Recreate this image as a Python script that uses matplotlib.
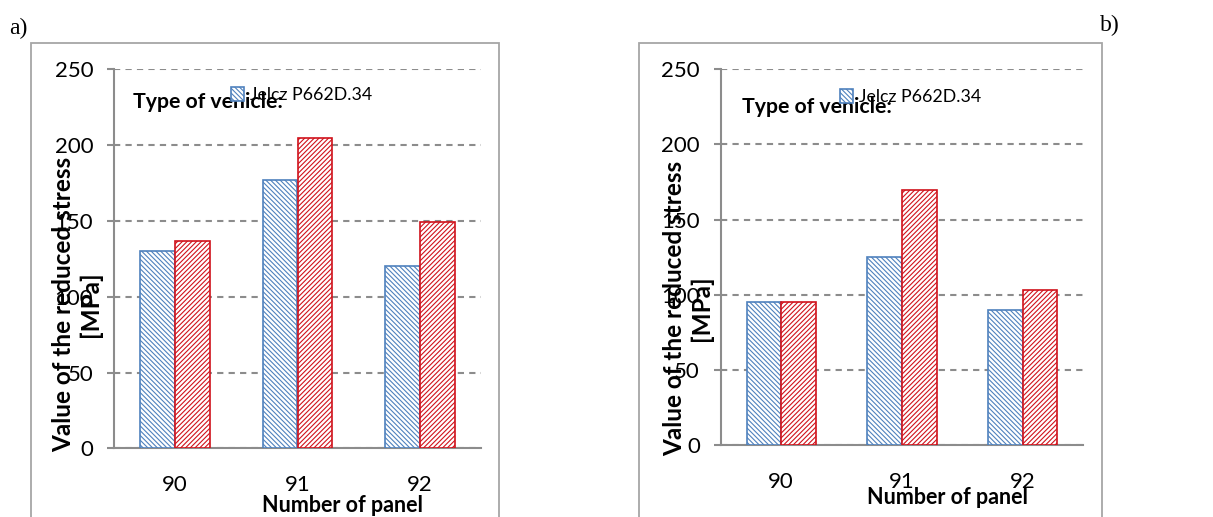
import matplotlib
matplotlib.use("Agg")
import matplotlib.pyplot as plt
import matplotlib.patches as mpatches
import numpy as np

panels = ["90", "91", "92"]
series_names = ["Jelcz P662D.34", "Jelcz P662D.34 (mod.)"]
stress_a_blue = [130, 177, 120.5]
stress_a_red = [136.5, 205, 149.5]
stress_b_blue = [95.5, 125, 90]
stress_b_red = [95, 169.5, 103.5]

W, H = 1213, 517
BLUE = "#4F81BD"
RED = "#D0121B"
GRAY = "#8C8C8C"

plt.rcParams['font.family'] = ['Lato', 'DejaVu Sans']
plt.rcParams['hatch.linewidth'] = 0.8

fig = plt.figure(figsize=(W / 100, H / 100), dpi=100)


def px_axes(x0, x1, y_top, y_bot):
    return fig.add_axes([x0 / W, 1 - y_bot / H, (x1 - x0) / W, (y_bot - y_top) / H])


def draw_panel(ax, blue, red, frame, ylab_xy, leg_xy, type_xy, xlab_xy, tag, tag_xy):
    x = np.arange(len(panels))
    w = 0.286
    ax.bar(x - w / 2, blue, w, facecolor="white", edgecolor=BLUE, hatch="\\" * 7,
           linewidth=1.2, label=series_names[0], zorder=3)
    ax.bar(x + w / 2, red, w, facecolor="white", edgecolor=RED, hatch="/" * 7,
           linewidth=1.2, label=series_names[1], zorder=3)
    ax.set_xlim(-0.5, 2.5)
    ax.set_ylim(0, 250)
    ax.set_yticks([0, 50, 100, 150, 200, 250])
    ax.set_xticks(x)
    ax.set_xticklabels(panels)
    ax.yaxis.grid(True, color=GRAY, linestyle=(0, (3, 2.5)), linewidth=1.5, zorder=0)
    ax.set_axisbelow(True)
    for s in ["top", "right"]:
        ax.spines[s].set_visible(False)
    for s in ["left", "bottom"]:
        ax.spines[s].set_color(GRAY)
        ax.spines[s].set_linewidth(1.5)
    ax.tick_params(axis="y", length=5, width=1.5, color=GRAY, pad=10, labelsize=16)
    ax.tick_params(axis="x", length=0, pad=19, labelsize=16)

    # chart area frame
    fx0, fx1, fy = frame
    fig.add_artist(mpatches.Rectangle((fx0 / W, -0.2), (fx1 - fx0) / W, 1.2 - fy / H,
                                      transform=fig.transFigure, fill=False,
                                      edgecolor="#A6A6A6", linewidth=1.3))

    fig.text(ylab_xy[0] / W, 1 - ylab_xy[1] / H, "Value of the reduced stress\n[MPa]",
             rotation=90, ha="center", va="center", fontsize=17.5, fontweight="bold",
             linespacing=1.15, multialignment="center")
    fig.text(xlab_xy[0] / W, 1 - xlab_xy[1] / H, "Number of panel", ha="center", va="center",
             fontsize=15.5, fontweight="bold")
    fig.text(type_xy[0] / W, 1 - type_xy[1] / H, "Type of vehicle:", ha="left", va="center",
             fontsize=15.3, fontweight="bold")
    h, l = ax.get_legend_handles_labels()
    fig.legend(h[:1], l[:1], loc="center left", bbox_to_anchor=(leg_xy[0] / W, 1 - leg_xy[1] / H),
               frameon=False, fontsize=12.8, borderpad=0, borderaxespad=0,
               handlelength=0.75, handleheight=0.8, handletextpad=0.3)
    fig.text(tag_xy[0] / W, 1 - tag_xy[1] / H, tag, ha="left", va="center",
             fontsize=17, family="Liberation Serif")


ax_a = px_axes(114, 481, 69.3, 448.3)
draw_panel(ax_a, stress_a_blue, stress_a_red, (31, 499, 43), (77, 304), (231, 95),
           (133, 102), (342, 505), "a)", (9, 28))

ax_b = px_axes(720.7, 1083.3, 69, 445.3)
draw_panel(ax_b, stress_b_blue, stress_b_red, (639, 1102, 43), (688, 308), (840, 97),
           (742, 107), (947, 497), "b)", (1100, 25))

fig.savefig("out.png", dpi=100)
